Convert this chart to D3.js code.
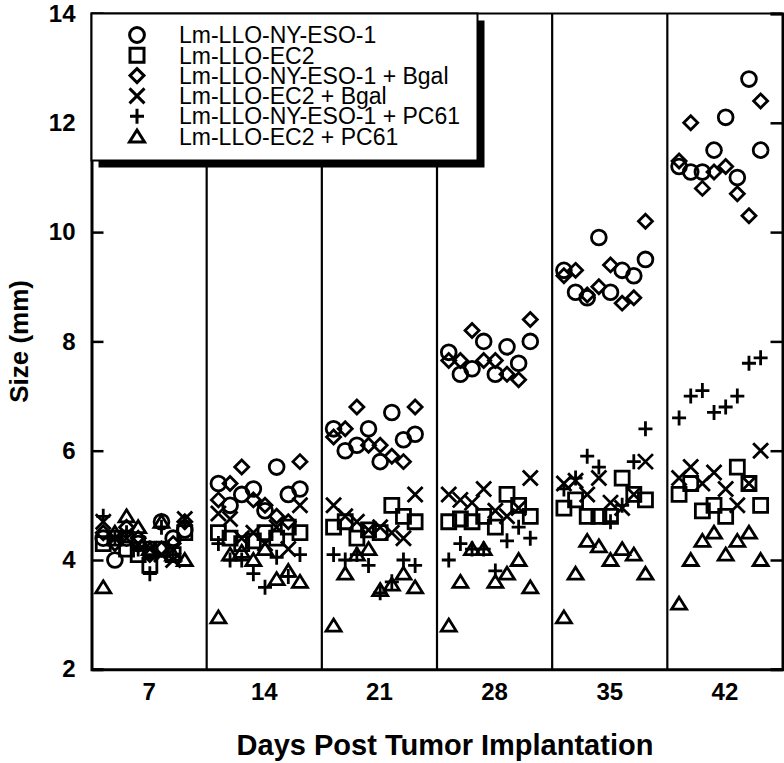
<!DOCTYPE html>
<html>
<head>
<meta charset="utf-8">
<script src="https://cdn.jsdelivr.net/npm/d3@7"></script>
<style>
  html, body { margin: 0; padding: 0; background: #fff; }
  svg text { font-family: "Liberation Sans", Arial, Helvetica, sans-serif; fill: #000; }
</style>
</head>
<body>
<div id="wrapper"></div>
<script>
// Data: days, one array per series, 8 mice per day
const days = [7, 14, 21, 28, 35, 42];
const yTicks = [2, 4, 6, 8, 10, 12, 14];
const seriesNames = [
    "Lm-LLO-NY-ESO-1",
    "Lm-LLO-EC2",
    "Lm-LLO-NY-ESO-1 + Bgal",
    "Lm-LLO-EC2 + Bgal",
    "Lm-LLO-NY-ESO-1 + PC61",
    "Lm-LLO-EC2 + PC61"
];
const nyEso = [
    [4.4, 4.0, 4.4, 4.3, 4.2, 4.7, 4.4, 4.55],
    [5.4, 5.0, 5.2, 5.3, 4.9, 5.7, 5.2, 5.3],
    [6.4, 6.0, 6.1, 6.4, 5.8, 6.7, 6.2, 6.3],
    [7.8, 7.4, 7.5, 8.0, 7.4, 7.9, 7.6, 8.0],
    [9.3, 8.9, 8.8, 9.9, 8.9, 9.3, 9.2, 9.5],
    [11.2, 11.1, 11.1, 11.5, 12.1, 11.0, 12.8, 11.5]
];
const ec2 = [
    [4.3, 4.4, 4.2, 4.1, 3.9, 4.2, 4.1, 4.5],
    [4.5, 4.4, 4.3, 4.35, 4.5, 4.4, 4.6, 4.5],
    [4.6, 4.7, 4.4, 4.55, 4.5, 5.0, 4.8, 4.7],
    [4.7, 4.75, 4.7, 4.8, 4.6, 5.2, 5.0, 4.8],
    [4.95, 5.1, 4.8, 4.8, 4.8, 5.5, 5.2, 5.1],
    [5.2, 5.4, 4.9, 5.0, 4.8, 5.7, 5.4, 5.0]
];
const nyEsoBgal = [
    [4.5, 4.3, 4.6, 4.4, 4.1, 4.2, 4.3, 4.7],
    [5.1, 5.4, 5.7, 5.1, 5.0, 4.8, 4.7, 5.8],
    [6.25, 6.4, 6.8, 6.1, 6.1, 5.9, 5.8, 6.8],
    [7.65, 7.65, 8.2, 7.65, 7.65, 7.4, 7.3, 8.4],
    [9.2, 9.3, 8.85, 9.0, 9.4, 8.7, 8.8, 10.2],
    [11.3, 12.0, 10.8, 11.1, 11.2, 10.7, 10.3, 12.4]
];
const ec2Bgal = [
    [4.7, 4.4, 4.4, 4.3, 4.2, 4.1, 4.0, 4.75],
    [4.85, 4.75, 4.4, 4.5, 4.3, 4.6, 4.2, 5.0],
    [5.0, 4.8, 4.7, 4.55, 4.6, 4.5, 4.4, 5.2],
    [5.2, 5.1, 5.05, 5.3, 4.9, 4.8, 4.95, 5.5],
    [5.4, 5.45, 5.2, 5.5, 5.05, 4.95, 5.2, 5.8],
    [5.5, 5.7, 5.4, 5.6, 5.3, 5.0, 5.4, 6.0]
];
const nyEsoPc61 = [
    [4.8, 4.4, 4.5, 4.2, 3.75, 4.6, 4.1, 4.7],
    [4.3, 4.0, 4.0, 3.75, 3.5, 4.05, 3.7, 4.1],
    [4.1, 4.0, 4.1, 3.9, 3.4, 3.6, 4.0, 3.9],
    [4.0, 4.3, 4.2, 4.2, 3.8, 4.35, 4.6, 4.4],
    [5.3, 5.5, 5.9, 5.7, 4.7, 5.0, 5.8, 6.4],
    [6.6, 7.0, 7.1, 6.7, 6.8, 7.0, 7.6, 7.7]
];
const ec2Pc61 = [
    [3.5, 4.5, 4.8, 4.6, 4.2, 4.7, 4.1, 4.0],
    [2.95, 4.1, 4.15, 4.0, 4.2, 3.65, 3.8, 3.6],
    [2.8, 3.75, 4.1, 4.2, 3.45, 3.55, 3.75, 3.5],
    [2.8, 3.6, 4.2, 4.2, 3.6, 3.75, 4.0, 3.5],
    [2.95, 3.75, 4.35, 4.25, 4.0, 4.2, 4.1, 3.75],
    [3.2, 4.0, 4.35, 4.5, 4.1, 4.35, 4.5, 4.0]
];
const seriesValues = [nyEso, ec2, nyEsoBgal, ec2Bgal, nyEsoPc61, ec2Pc61];

// Marker paths (centred at 0,0)
const markerPath = {
    circle: () => { const p = d3.path(); p.arc(0, 0, 7.4, 0, 2 * Math.PI); return p.toString(); },
    square: () => "M-7,-7H7V7H-7Z",
    diamond: () => "M0,-7L7,0L0,7L-7,0Z",
    times: () => "M-7.5,-7.5L7.5,7.5M7.5,-7.5L-7.5,7.5",
    plus: () => "M-7,0H7M0,-7.5V7.5",
    triangle: () => "M0,-6.5L7.5,5.5H-7.5Z"
};
const markerKeys = ["circle", "square", "diamond", "times", "plus", "triangle"];

// Dimensions
const dimensions = {
    width: 784,
    height: 763,
    margin: { top: 13.5, right: 1.5, bottom: 93.7, left: 91.5 }
};
dimensions.boundedWidth = dimensions.width - dimensions.margin.left - dimensions.margin.right;
dimensions.boundedHeight = dimensions.height - dimensions.margin.top - dimensions.margin.bottom;

const svg = d3.select("#wrapper")
    .append("svg")
    .attr("width", dimensions.width)
    .attr("height", dimensions.height);

const bounds = svg.append("g")
    .attr("transform", `translate(${dimensions.margin.left},${dimensions.margin.top})`);

// Scales
const xScale = d3.scaleBand()
    .domain(days)
    .range([0, dimensions.boundedWidth])
    .paddingInner(0)
    .paddingOuter(0);
const bw = xScale.bandwidth();
const innerScale = d3.scaleLinear()
    .domain([0, 7])
    .range([bw * 0.102, bw * 0.81]);
const yScale = d3.scaleLinear()
    .domain([2, 14])
    .range([dimensions.boundedHeight, 0]);

// Panel dividers
bounds.selectAll(".divider")
    .data(days.slice(1))
    .join("line")
    .attr("x1", d => xScale(d))
    .attr("x2", d => xScale(d))
    .attr("y1", 0)
    .attr("y2", dimensions.boundedHeight)
    .attr("stroke", "#000")
    .attr("stroke-width", 2.2);

// Points
seriesValues.forEach((series, s) => {
    const pts = [];
    series.forEach((vals, di) => {
        vals.forEach((v, i) => pts.push({ day: days[di], i, v }));
    });
    bounds.append("g")
        .selectAll("path")
        .data(pts)
        .join("path")
        .attr("d", markerPath[markerKeys[s]]())
        .attr("transform", d => `translate(${xScale(d.day) + innerScale(d.i)},${yScale(d.v)})`)
        .attr("fill", "none")
        .attr("stroke", "#000")
        .attr("stroke-width", 2.8);
});

// Axes
const yAxisLeft = d3.axisLeft(yScale).tickValues(yTicks).tickSize(-12).tickPadding(16);
const yAxisRight = d3.axisRight(yScale).tickValues(yTicks).tickSize(-12).tickFormat("");
const xAxis = d3.axisBottom(xScale).tickSize(0).tickPadding(14);

const yLeftG = bounds.append("g").call(yAxisLeft);
const yRightG = bounds.append("g")
    .attr("transform", `translate(${dimensions.boundedWidth},0)`)
    .call(yAxisRight);
const xG = bounds.append("g")
    .attr("transform", `translate(0,${dimensions.boundedHeight})`)
    .call(xAxis);

[yLeftG, yRightG, xG].forEach(g => {
    g.select(".domain").attr("stroke", "#000").attr("stroke-width", 3);
    g.selectAll(".tick line").attr("stroke", "#000").attr("stroke-width", 2.5);
    g.selectAll(".tick text")
        .attr("fill", "#000")
        .style("font-size", "24px")
        .style("font-weight", "bold");
});
// top border
bounds.append("line")
    .attr("x1", 0).attr("x2", dimensions.boundedWidth)
    .attr("y1", 0).attr("y2", 0)
    .attr("stroke", "#000").attr("stroke-width", 2);

// Axis titles
svg.append("text")
    .attr("transform", `translate(28,${dimensions.margin.top + yScale(8)}) rotate(-90)`)
    .attr("text-anchor", "middle")
    .style("font-size", "26px")
    .style("font-weight", "bold")
    .text("Size (mm)");
svg.append("text")
    .attr("x", 445)
    .attr("y", 755)
    .attr("text-anchor", "middle")
    .style("font-size", "29px")
    .style("font-weight", "bold")
    .text("Days Post Tumor Implantation");

// Legend
const legend = bounds.append("g");
const legendW = 386, legendH = 147;
legend.append("rect")
    .attr("x", 7).attr("y", 7)
    .attr("width", legendW).attr("height", legendH)
    .attr("fill", "#000");
legend.append("rect")
    .attr("x", 0).attr("y", 0)
    .attr("width", legendW).attr("height", legendH)
    .attr("fill", "#fff")
    .attr("stroke", "#000")
    .attr("stroke-width", 2);
const rows = legend.selectAll(".row")
    .data(seriesNames)
    .join("g")
    .attr("transform", (d, i) => `translate(0,${21.5 + i * 20.3})`);
rows.append("path")
    .attr("d", (d, i) => markerPath[markerKeys[i]]())
    .attr("transform", "translate(45.5,0)")
    .attr("fill", "none")
    .attr("stroke", "#000")
    .attr("stroke-width", 3);
rows.append("text")
    .attr("x", 87.5)
    .attr("dy", "0.36em")
    .style("font-size", "23px")
    .text(d => d);
</script>
</body>
</html>
